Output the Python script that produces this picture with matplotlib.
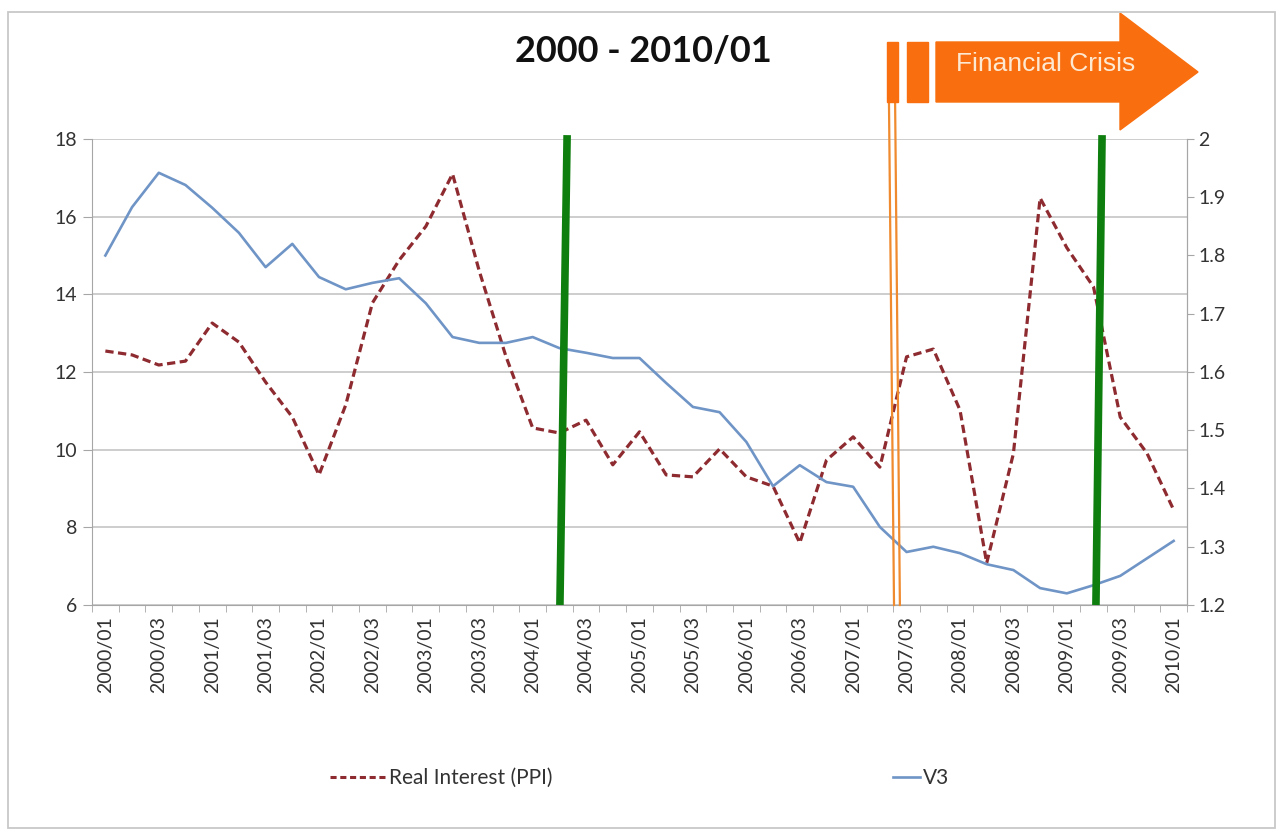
import matplotlib
matplotlib.use("Agg")
import matplotlib.pyplot as plt
from matplotlib.lines import Line2D
from matplotlib.patches import Polygon, Rectangle
from matplotlib.ticker import FuncFormatter
import numpy as np

plt.rcParams['font.family'] = ['Lato', 'DejaVu Sans']

# quarterly categories 2000/01 .. 2010/01
quarters = [f"{y}/{q:02d}" for y in range(2000, 2011) for q in range(1, 5)][:41]

real_interest = [12.54, 12.44, 12.18, 12.28, 13.26, 12.77, 11.74, 10.84, 9.35, 11.15,
                 13.78, 14.88, 15.75, 17.10, 14.60, 12.40, 10.56, 10.43, 10.76, 9.61,
                 10.46, 9.35, 9.30, 10.02, 9.30, 9.06, 7.60, 9.73, 10.33, 9.55,
                 12.39, 12.59, 11.02, 7.08, 9.90, 16.48, 15.20, 14.19, 10.84, 9.91,
                 8.45]

v3 = [1.800, 1.883, 1.942, 1.921, 1.882, 1.839, 1.780, 1.820, 1.763, 1.742,
      1.753, 1.761, 1.718, 1.660, 1.650, 1.650, 1.660, 1.641, 1.633, 1.624,
      1.624, 1.581, 1.540, 1.531, 1.480, 1.404, 1.440, 1.411, 1.403, 1.334,
      1.291, 1.300, 1.289, 1.270, 1.260, 1.229, 1.220, 1.234, 1.250, 1.280,
      1.310]

# hand-drawn markers (category position at bottom / top)
green_marks = [(17.02, 17.29), (37.09, 37.32)]
crisis_marks = [(29.53, 29.34), (29.75, 29.57)]

W, H = 1282, 833
fig = plt.figure(figsize=(W / 100, H / 100), dpi=100)
fig.patch.set_facecolor("white")

def fx(px):
    return px / W

def fy(py):
    return 1 - py / H

ax = fig.add_axes([fx(92), fy(605), (1187 - 92) / W, (605 - 139) / H])
ax2 = ax.twinx()

x = np.arange(len(quarters))
red_col = "#8E2B30"
blue_col = "#6F94C6"
axis_col = "#A6A6A6"
text_col = "#333333"

ax.plot(x, real_interest, color=red_col, lw=2.3, dashes=(2.6, 1.4))
ax2.plot(x, v3, color=blue_col, lw=1.9)

ax.set_xlim(-0.5, len(quarters) - 0.5)
ax.set_ylim(6, 18)
ax2.set_ylim(1.2, 2.0)

ax.set_yticks(np.arange(6, 19, 2))
ax2.set_yticks(np.arange(1.2, 2.01, 0.1))
ax2.yaxis.set_major_formatter(FuncFormatter(lambda v, p: f"{v:g}"))

ax.set_xticks(x[::2])
ax.set_xticklabels(quarters[::2], rotation=90)
ax.set_xticks(np.arange(-0.5, len(quarters), 1), minor=True)
ax.tick_params(axis="x", which="major", length=0, pad=8, labelsize=14, labelcolor=text_col)
ax.tick_params(axis="x", which="minor", length=5, color=axis_col, direction="out")
ax.tick_params(axis="y", length=6.5, color=axis_col, labelsize=14, labelcolor=text_col, pad=4)
ax2.tick_params(axis="y", length=5, color=axis_col, labelsize=14, labelcolor=text_col, pad=3)

ax.yaxis.grid(True, color="#C0C0C0", lw=1.1)
ax.set_axisbelow(True)
for s in ["left", "bottom", "right"]:
    ax.spines[s].set_color(axis_col)
ax.spines["top"].set_visible(False)
for s in ["left", "bottom", "top"]:
    ax2.spines[s].set_visible(False)
ax2.spines["right"].set_color(axis_col)

# vertical markers
for xb, xt in green_marks:
    ax2.plot([xb, xt], [6, 18.1], transform=ax.transData, color="#0E7E0E",
             lw=5.5, solid_capstyle="butt", clip_on=False, zorder=5)
for xb, xt in crisis_marks:
    ax2.plot([xb, xt], [6, 19.0], transform=ax.transData, color="#F08A2E",
             lw=1.6, clip_on=False, zorder=5)

# financial crisis arrow
orange = "#F96E0E"
fig.patches.append(Rectangle((fx(887), fy(102)), (898 - 887) / W, 60 / H,
                             transform=fig.transFigure, color=orange))
fig.patches.append(Rectangle((fx(907), fy(102)), (928 - 907) / W, 60 / H,
                             transform=fig.transFigure, color=orange))
arrow_px = [(936, 42), (1120, 42), (1120, 13), (1198, 72), (1120, 130), (1120, 102), (936, 102)]
fig.patches.append(Polygon([(fx(a), fy(b)) for a, b in arrow_px], closed=True,
                           transform=fig.transFigure, color=orange))
fig.text(fx(1046), fy(64), "Financial Crisis", color="#FDE8D2", fontsize=19,
         family=["Liberation Sans", "DejaVu Sans"], ha="center", va="center")

# chart frame
fig.patches.append(Rectangle((fx(8), fy(828)), (1275 - 8) / W, (828 - 12) / H,
                             transform=fig.transFigure, fill=False,
                             edgecolor="#C8C8C8", lw=1.3))

fig.text(fx(643), fy(52), "2000 - 2010/01", fontsize=26, fontweight="bold",
         color="#111111", ha="center", va="center")

# legend
h1 = Line2D([], [], color=red_col, lw=2.2, dashes=(2.0, 1.2))
h2 = Line2D([], [], color=blue_col, lw=1.9)
fig.legend([h1], ["Real Interest (PPI)"], loc="center left",
           bbox_to_anchor=(fx(330), fy(778)), frameon=False, fontsize=15,
           handlelength=2.7, handletextpad=0.12, borderpad=0, borderaxespad=0,
           labelcolor=text_col)
fig.legend([h2], ["V3"], loc="center left",
           bbox_to_anchor=(fx(893), fy(778)), frameon=False, fontsize=15,
           handlelength=1.3, handletextpad=0.12, borderpad=0, borderaxespad=0,
           labelcolor=text_col)

fig.savefig("out.png", dpi=100)
